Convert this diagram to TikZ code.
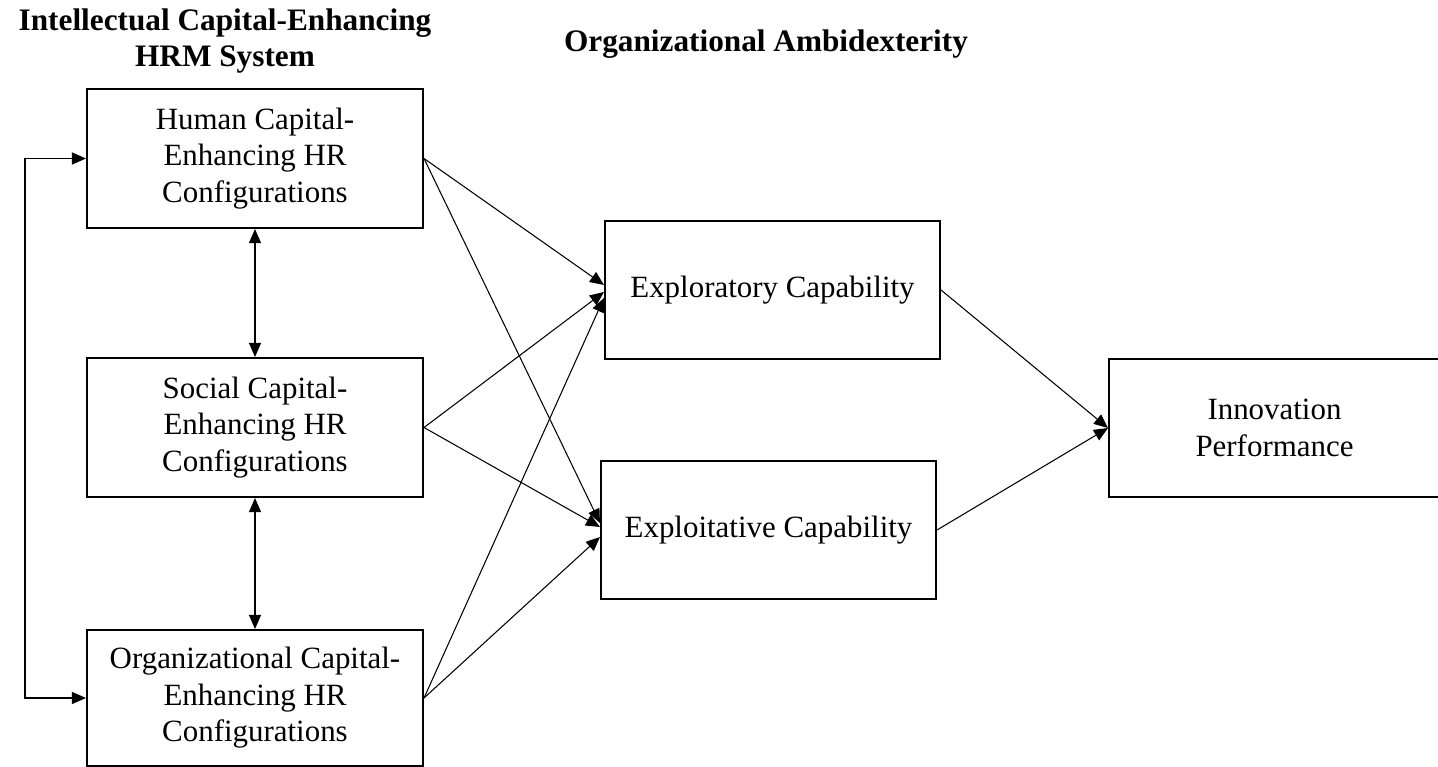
\documentclass[tikz,border=0pt]{standalone}
\usepackage{fontspec}
\setmainfont{Liberation Serif}
\usetikzlibrary{arrows.meta}

\begin{document}
\begin{tikzpicture}[x = 0.02cm, y = -0.02cm, font=\fontsize{17.6}{20.8}\selectfont]
	\tikzstyle{boxStyle} = [draw, line width = 1.2pt, align = center, inner sep = 0pt, minimum width = 6.72cm, minimum height = 2.78cm]
	\tikzstyle{titleStyle} = [align = center, font = \fontsize{17.8}{20.6}\selectfont\bfseries]
	\tikzstyle{arrowStyle} = [line width = 0.6pt, -{Triangle[length = 0.28cm, width = 0.24cm]}]
	\tikzstyle{bothStyle} = [line width = 0.6pt, {Triangle[length = 0.28cm, width = 0.24cm]}-{Triangle[length = 0.28cm, width = 0.24cm]}]
	\useasboundingbox (0,0) rectangle (1438,767);
	\node[titleStyle] (icTitle) at (225,41) {Intellectual Capital-Enhancing\\HRM System};
	\node[titleStyle] (oaTitle) at (766,44) {Organizational Ambidexterity};
	\node[boxStyle] (hum) at (255,158.5) {Human Capital-\\Enhancing HR\\Configurations};
	\node[boxStyle] (soc) at (255,427.5) {Social Capital-\\Enhancing HR\\Configurations};
	\node[boxStyle, minimum height = 2.72cm] (org) at (255,698) {Organizational Capital-\\Enhancing HR\\Configurations};
	\node[boxStyle, minimum width = 6.7cm, minimum height = 2.76cm] (explor) at (772.5,290) {Exploratory Capability};
	\node[boxStyle, minimum width = 6.7cm, minimum height = 2.76cm] (exploit) at (768.5,530) {Exploitative Capability};
	\node[boxStyle, minimum width = 6.62cm, minimum height = 2.76cm] (innov) at (1274.5,428) {Innovation\\Performance};
	\coordinate (loopTop) at (25,158.5);
	\coordinate (loopBot) at (25,698);
	\draw[bothStyle] (hum.west) -- (loopTop) -- (loopBot) -- (org.west);
	\draw[bothStyle] (hum.south) -- (soc.north);
	\draw[bothStyle] (soc.south) -- (org.north);
	\draw[arrowStyle] (hum.east) -- ([yshift = 0.1cm]explor.west);
	\draw[arrowStyle] (hum.east) -- ([yshift = 0.14cm]exploit.west);
	\draw[arrowStyle] (soc.east) -- ([yshift = -0.04cm]explor.west);
	\draw[arrowStyle] (soc.east) -- ([yshift = 0.06cm]exploit.west);
	\draw[arrowStyle] (org.east) -- ([yshift = -0.16cm]explor.west);
	\draw[arrowStyle] (org.east) -- ([yshift = -0.14cm]exploit.west);
	\draw[arrowStyle] (explor.east) -- (innov.west);
	\draw[arrowStyle] (exploit.east) -- (innov.west);
\end{tikzpicture}
\end{document}
